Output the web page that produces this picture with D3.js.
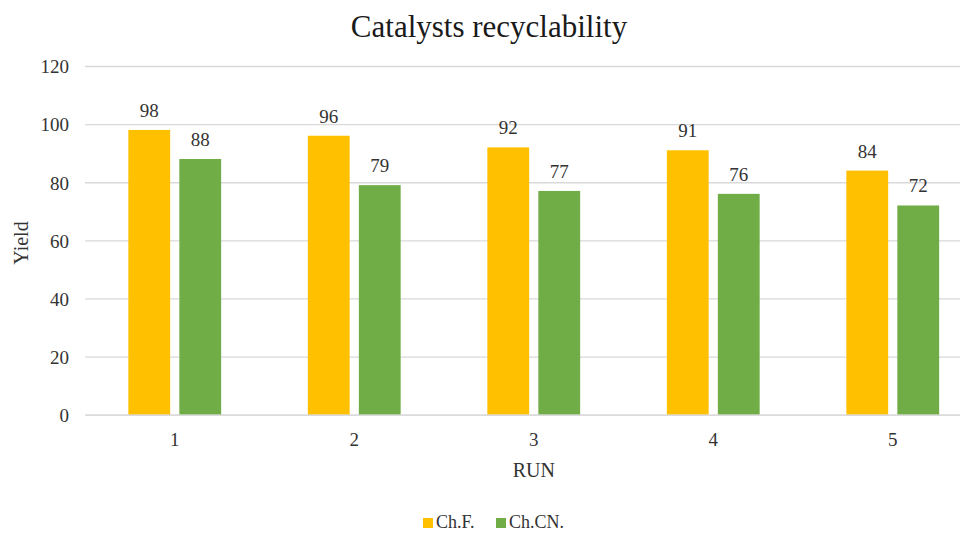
<!DOCTYPE html>
<html>
<head>
<meta charset="utf-8">
<script src="https://cdn.jsdelivr.net/npm/d3@7"></script>
<style>
	body { margin: 0; background: #fff; }
	svg text { font-family: "Liberation Serif", "Times New Roman", serif; }
</style>
</head>
<body>
<div id="chart"></div>
<script>
//values
let runs = ["1", "2", "3", "4", "5"];
let seriesNames = ["Ch.F.", "Ch.CN."];
let chfValues = [98, 96, 92, 91, 84];
let chcnValues = [88, 79, 77, 76, 72];
let yTicks = [0, 20, 40, 60, 80, 100, 120];

let colors = d3.scaleOrdinal()
	.domain(seriesNames)
	.range(["#FFC000", "#70AD47"]);

const serif = "Liberation Serif, Times New Roman, serif";

function graph(){

	let width = 960;
	let height = 535;
	let margin = {top: 66, left: 85, bottom: 120};
	let plotRight = 982.5; //plot area runs past the picture edge

	let svg = d3.select("#chart")
		.append("svg")
		.attr("width", width)
		.attr("height", height)
		.attr("font-family", serif);

	let rows = runs.map((r, i) => ({run: r, values: [chfValues[i], chcnValues[i]]}));

	const x0 = d3.scaleBand()
		.domain(runs)
		.range([margin.left, plotRight])
		.padding(0);

	const x1 = d3.scaleBand()
		.domain(seriesNames)
		.range([0, x0.bandwidth()])
		.paddingInner(0.18)
		.paddingOuter(0.85);

	const y = d3.scaleLinear()
		.domain([0, 120])
		.range([414.7, margin.top]);

	//grid + y labels
	const yAxis = d3.axisLeft(y)
		.tickValues(yTicks)
		.tickSize(-(plotRight - margin.left))
		.tickPadding(16);

	svg.append("g")
		.attr("class", "axis y_axis")
		.attr("transform", `translate(${margin.left},0)`)
		.call(yAxis)
		.attr("font-family", serif)
		.call(g => g.select(".domain").remove())
		.call(g => g.selectAll("line").attr("stroke", "#d9d9d9").attr("stroke-width", 1.3))
		.call(g => g.selectAll("text")
			.attr("font-size", 19)
			.attr("font-family", serif)
			.attr("fill", "#333")
			.attr("dy", "0.36em"));

	//bars
	let groups = svg.append("g")
		.selectAll("g")
		.data(rows)
		.enter()
		.append("g")
		.attr("transform", d => `translate(${x0(d.run)},0)`);

	let cells = groups.selectAll("g")
		.data(d => d.values.map((v, i) => ({key: seriesNames[i], value: v})))
		.enter()
		.append("g");

	cells.append("rect")
		.attr("x", d => x1(d.key))
		.attr("y", d => y(d.value))
		.attr("width", x1.bandwidth())
		.attr("height", d => y(0) - y(d.value))
		.attr("fill", d => colors(d.key));

	cells.append("text")
		.attr("x", d => x1(d.key) + x1.bandwidth() / 2)
		.attr("y", d => y(d.value) - 13)
		.attr("text-anchor", "middle")
		.attr("font-size", 19)
		.attr("font-family", serif)
		.attr("fill", "#333")
		.text(d => d.value);

	//x axis
	const xAxis = d3.axisBottom(x0)
		.tickSize(0)
		.tickPadding(18);

	svg.append("g")
		.attr("class", "axis x_axis")
		.attr("transform", `translate(0,${y(0)})`)
		.call(xAxis)
		.attr("font-family", serif)
		.call(g => g.select(".domain").attr("stroke", "#d9d9d9").attr("stroke-width", 1.3))
		.call(g => g.selectAll("text")
			.attr("font-size", 19)
			.attr("font-family", serif)
			.attr("fill", "#333"));

	//titles
	svg.append("text")
		.attr("x", 489)
		.attr("y", 37)
		.attr("text-anchor", "middle")
		.attr("font-size", 31)
		.attr("fill", "#1a1a1a")
		.text("Catalysts recyclability");

	svg.append("text")
		.attr("x", (margin.left + plotRight) / 2)
		.attr("y", 477)
		.attr("text-anchor", "middle")
		.attr("font-size", 20)
		.attr("fill", "#333")
		.text("RUN");

	svg.append("text")
		.attr("transform", "translate(28,243) rotate(-90)")
		.attr("text-anchor", "middle")
		.attr("font-size", 20)
		.attr("fill", "#333")
		.text("Yield");

	//legend
	let legendX = [423, 496];
	let legend = svg.append("g")
		.selectAll("g")
		.data(seriesNames)
		.enter()
		.append("g")
		.attr("transform", (d, i) => `translate(${legendX[i]},518)`);

	legend.append("rect")
		.attr("width", 10)
		.attr("height", 10)
		.attr("fill", d => colors(d));

	legend.append("text")
		.attr("x", 13)
		.attr("y", 10)
		.attr("font-size", 18)
		.attr("fill", "#333")
		.text(d => d);

} //function graph

graph();
</script>
</body>
</html>
